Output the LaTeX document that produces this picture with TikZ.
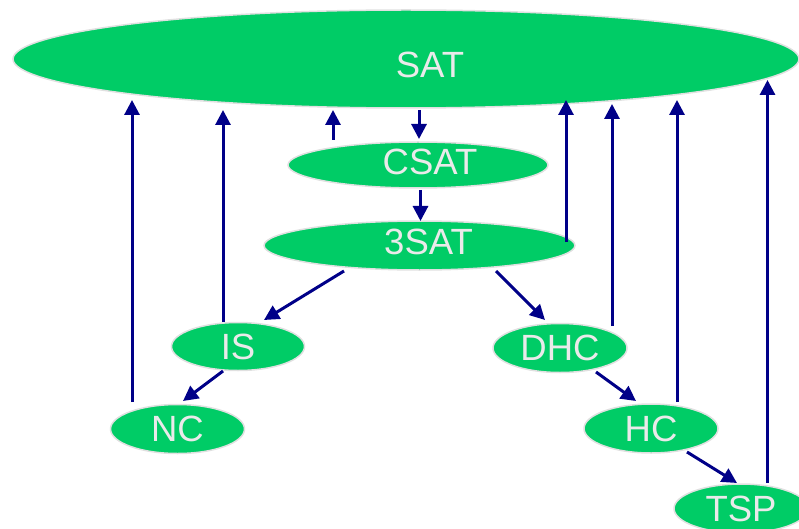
\documentclass[tikz,border=0pt]{standalone}
\usepackage{fontspec}
\setmainfont{Liberation Sans}
\usetikzlibrary{arrows.meta,shapes.geometric}
\definecolor{nodegreen}{RGB}{0,204,102}
\definecolor{rimgray}{RGB}{224,224,224}
\definecolor{txtgray}{RGB}{234,234,234}
\definecolor{navy}{RGB}{0,0,136}
\tikzset{
  prob/.style={ellipse, fill=nodegreen, draw=rimgray, line width=1.5pt,
    inner sep=0pt, outer sep=0pt, text=txtgray,
    font=\fontsize{36.5}{36.5}\selectfont},
  lbl/.style={text=txtgray, inner sep=0pt, font=\fontsize{36.5}{36.5}\selectfont},
  arr/.style={draw=navy, line width=3pt, -{Triangle[length=15pt,width=15pt]}}
}
\begin{document}
\begin{tikzpicture}[x=1pt,y=-1pt]
\useasboundingbox (0,0) rectangle (799,529);
\clip (0,0) rectangle (799,529);

% problems
\node[prob, minimum width=786pt, minimum height=98pt] (sat) at (406,59) {};
\node[lbl] (satlbl) at (430,64.5) {SAT};
\node[prob, minimum width=260pt, minimum height=46pt] (csat) at (418,165) {};
\node[lbl] (csatlbl) at (430,161.5) {CSAT};
\node[prob, minimum width=311pt, minimum height=49pt] (s3) at (419.5,245.5) {};
\node[lbl] (s3lbl) at (428.5,242) {3SAT};
\node[prob, minimum width=133pt, minimum height=48pt] (is) at (238,346.5) {IS};
\node[prob, minimum width=134pt, minimum height=49pt] (dhc) at (560,348) {DHC};
\node[prob, minimum width=134pt, minimum height=49pt] (nc) at (177.5,429) {NC};
\node[prob, minimum width=134pt, minimum height=49pt] (hc) at (651,428.5) {HC};
\node[prob, minimum width=134pt, minimum height=49pt] (tsp) at (741,508.5) {TSP};

% reductions back to SAT
\draw[arr] ([shift={(-45.5,-27)}]nc.center) -- ([shift={(-274,41)}]sat.center);
\draw[arr] ([shift={(-15,-24.5)}]is.center) -- ([shift={(-183,51)}]sat.center);
\draw[arr] ([shift={(-85,-25)}]csat.center) -- ([shift={(-73,51)}]sat.center);
\draw[arr] ([shift={(146.5,-3.5)}]s3.center) -- ([shift={(160,41)}]sat.center);
\draw[arr] ([shift={(52,-22)}]dhc.center) -- ([shift={(206,45)}]sat.center);
\draw[arr] ([shift={(26,-26.5)}]hc.center) -- ([shift={(271,41)}]sat.center);
\draw[arr] ([shift={(26.5,-25.5)}]tsp.center) -- ([shift={(361.5,21)}]sat.center);

% reductions down the chain
\draw[arr] ([shift={(13,51)}]sat.center) -- ([shift={(1,-26)}]csat.center);
\draw[arr] ([shift={(2.5,25)}]csat.center) -- ([shift={(1,-24.5)}]s3.center);
\draw[arr] ([shift={(-75.5,25.5)}]s3.center) -- ([shift={(26,-26.5)}]is.center);
\draw[arr] ([shift={(76.5,25.5)}]s3.center) -- ([shift={(-15,-28)}]dhc.center);
\draw[arr] ([shift={(-15,24.5)}]is.center) -- ([shift={(5.5,-28)}]nc.center);
\draw[arr] ([shift={(36,24)}]dhc.center) -- ([shift={(-15,-27.5)}]hc.center);
\draw[arr] ([shift={(36,23.5)}]hc.center) -- ([shift={(-4,-25.5)}]tsp.center);
\end{tikzpicture}
\end{document}
